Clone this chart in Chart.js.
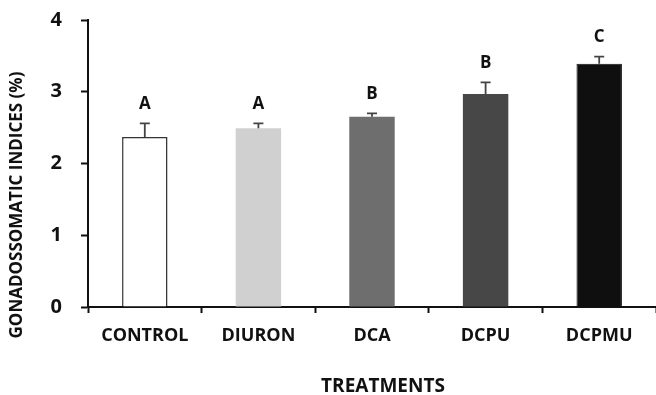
<!DOCTYPE html>
<html>
<head>
<meta charset="utf-8">
<script src="https://cdn.jsdelivr.net/npm/chart.js@4"></script>
<style>
  html, body { margin: 0; padding: 0; background: #fff; }
  #wrap { width: 656px; height: 395px; }
</style>
</head>
<body>
<div id="wrap"><canvas id="chart" width="656" height="395"></canvas></div>
<script>
const treatments = ['CONTROL', 'DIURON', 'DCA', 'DCPU', 'DCPMU'];
const gsi_mean = [2.37, 2.49, 2.65, 2.97, 3.39];
const gsi_err = [0.19, 0.07, 0.05, 0.16, 0.10];
const sig_letters = ['A', 'A', 'B', 'B', 'C'];
const bar_colors = ['#ffffff', '#d0d0d0', '#6e6e6e', '#474747', '#0f0f0f'];
const yTicks = [0, 1, 2, 3, 4];

const fontFam = '"Open Sans", "DejaVu Sans", sans-serif';

// error whiskers (upper only), letters, and both axis titles
const errPlugin = {
  id: 'errPlugin',
  afterDatasetsDraw(chart) {
    const ctx = chart.ctx;
    const x = chart.scales.x;
    const y = chart.scales.y;
    ctx.save();
    treatments.forEach((t, i) => {
      const cx = x.getPixelForValue(i);
      const yTop = y.getPixelForValue(gsi_mean[i]);
      const yErr = y.getPixelForValue(gsi_mean[i] + gsi_err[i]);
      ctx.strokeStyle = '#444';
      ctx.lineWidth = 1.8;
      ctx.beginPath();
      ctx.moveTo(cx, yTop);
      ctx.lineTo(cx, yErr);
      ctx.moveTo(cx - 5, yErr);
      ctx.lineTo(cx + 5, yErr);
      ctx.stroke();

      ctx.fillStyle = '#111';
      ctx.font = 'bold 17px ' + fontFam;
      ctx.textAlign = 'center';
      ctx.textBaseline = 'middle';
      ctx.fillText(sig_letters[i], cx, yErr - 19);
    });

    ctx.fillStyle = '#111';
    ctx.textAlign = 'center';
    ctx.textBaseline = 'middle';
    ctx.font = 'bold 19px ' + fontFam;
    ctx.fillText('TREATMENTS', 383, 387);

    ctx.translate(17, 205);
    ctx.rotate(-Math.PI / 2);
    ctx.font = 'bold 17px ' + fontFam;
    ctx.fillText('GONADOSSOMATIC INDICES (%)', 0, 0);
    ctx.restore();
  }
};

new Chart(document.getElementById('chart'), {
  type: 'bar',
  data: {
    labels: treatments,
    datasets: [{
      data: gsi_mean,
      backgroundColor: bar_colors,
      borderColor: ['#333', '#d0d0d0', '#6e6e6e', '#474747', '#0f0f0f'],
      borderWidth: [1.5, 0, 0, 0, 1],
      barPercentage: 0.4,
      categoryPercentage: 1.0
    }]
  },
  options: {
    responsive: false,
    animation: false,
    layout: { padding: { top: 20, right: 0, left: 0, bottom: 0 } },
    plugins: {
      legend: { display: false },
      tooltip: { enabled: false }
    },
    scales: {
      x: {
        grid: {
          offset: true,
          drawOnChartArea: false,
          drawTicks: true,
          tickLength: 6,
          tickWidth: 2,
          tickColor: '#111'
        },
        border: { display: true, color: '#111', width: 2 },
        ticks: {
          color: '#111',
          font: { family: fontFam, size: 18, weight: 'bold' },
          padding: 12,
          maxRotation: 0
        },
        afterFit(scale) {
          scale.height = 88;
          scale.paddingLeft = 0;
          scale.paddingRight = 0;
        }
      },
      y: {
        min: 0,
        max: 4,
        afterBuildTicks(scale) { scale.ticks = yTicks.map(v => ({ value: v })); },
        grid: {
          drawOnChartArea: false,
          drawTicks: true,
          tickLength: 7,
          tickWidth: 2,
          tickColor: '#111'
        },
        border: { display: true, color: '#111', width: 2 },
        ticks: {
          color: '#111',
          font: { family: fontFam, size: 20, weight: 'bold' },
          padding: 19
        },
        afterFit(scale) {
          scale.width = 88;
          scale.paddingTop = 0;
          scale.paddingBottom = 0;
        }
      }
    }
  },
  plugins: [errPlugin]
});
</script>
</body>
</html>
